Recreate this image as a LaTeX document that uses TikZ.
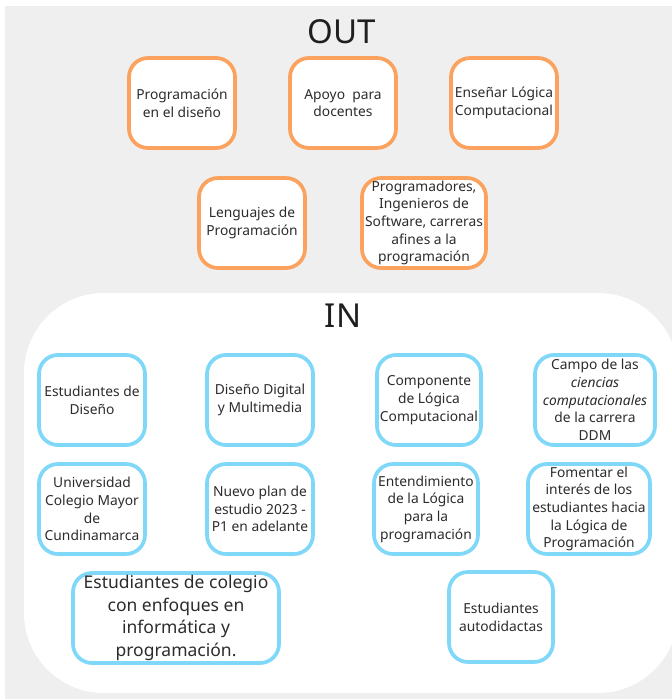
\documentclass[tikz,border=0pt]{standalone}
\usepackage{fontspec}
\setmainfont{Noto Sans}
\usetikzlibrary{positioning}
\definecolor{fondo}{HTML}{EFEFEF}
\definecolor{naranja}{HTML}{FBA35E}
\definecolor{celeste}{HTML}{7FD8F7}
\definecolor{letra}{HTML}{2C2C2C}

\tikzset{
  caja/.style={draw, line width=3.7pt, rounded corners=19pt, fill=white,
    text=letra, align=center, inner sep=0pt,
    font=\fontsize{13.8}{17.7}\selectfont},
  cajaout/.style={caja, draw=naranja, minimum width=106pt, minimum height=90pt},
  cajain/.style={caja, draw=celeste, minimum width=106pt, minimum height=90pt},
  titulo/.style={anchor=base, text=black!88, font=\fontsize{33}{36}\selectfont},
}

\begin{document}
\begin{tikzpicture}[x=1pt, y=-1pt]
      \useasboundingbox (0,0) rectangle (672,699);
      % fondo gris y zona blanca del IN
      \fill[fondo] (5,6) rectangle (680,705);
      \fill[white, rounded corners=80pt] (24,293) rectangle (678,693);

      % OUT
      \node[titulo] (out) at (342,43) {OUT};
      \node[cajaout] (progdis) at (182,103) {Programación\\en el diseño};
      \node[cajaout] (apoyo) at (343,103) {Apoyo\ \ para\\docentes};
      \node[cajaout] (ensenar) at (504,103) {Enseñar Lógica\\Computacional};
      \node[cajaout] (lenguajes) at (252,223) {Lenguajes de\\Programación};
      \node[cajaout, minimum width=124pt] (programadores) at (424,223)
        {Programadores,\\Ingenieros de\\Software, carreras\\afines a la\\programación};

      % IN
      \node[titulo] (in) at (343,327) {IN};
      \node[cajain] (estdis) at (92,400) {Estudiantes de\\Diseño};
      \node[cajain] (ddm) at (260,400) {Diseño Digital\\y Multimedia};
      \node[cajain, minimum width=104pt] (componente) at (429,400)
        {Componente\\de Lógica\\Computacional};
      \node[cajain, minimum width=120pt] (campo) at (595,400)
        {Campo de las\\\textit{ciencias}\\\textit{computacionales}\\de la carrera\\DDM};
      \node[cajain] (unicmc) at (92,509)
        {Universidad\\Colegio Mayor\\de\\Cundinamarca};
      \node[cajain] (plan) at (260,509)
        {Nuevo plan de\\estudio 2023 -\\P1 en adelante};
      \node[cajain, minimum width=104pt] (entendimiento) at (426,509)
        {Entendimiento\\de la Lógica\\para la\\programación};
      \node[cajain, minimum width=122pt] (fomentar) at (589,509)
        {Fomentar el\\interés de los\\estudiantes hacia\\la Lógica de\\Programación};
      \node[cajain, minimum width=206pt, font=\fontsize{17.5}{22.5}\selectfont] (colegio) at (176,618)
        {Estudiantes de colegio\\con enfoques en\\informática y\\programación.};
      \node[cajain, minimum width=104pt] (autodidactas) at (501,617)
        {Estudiantes\\autodidactas};
\end{tikzpicture}
\end{document}
